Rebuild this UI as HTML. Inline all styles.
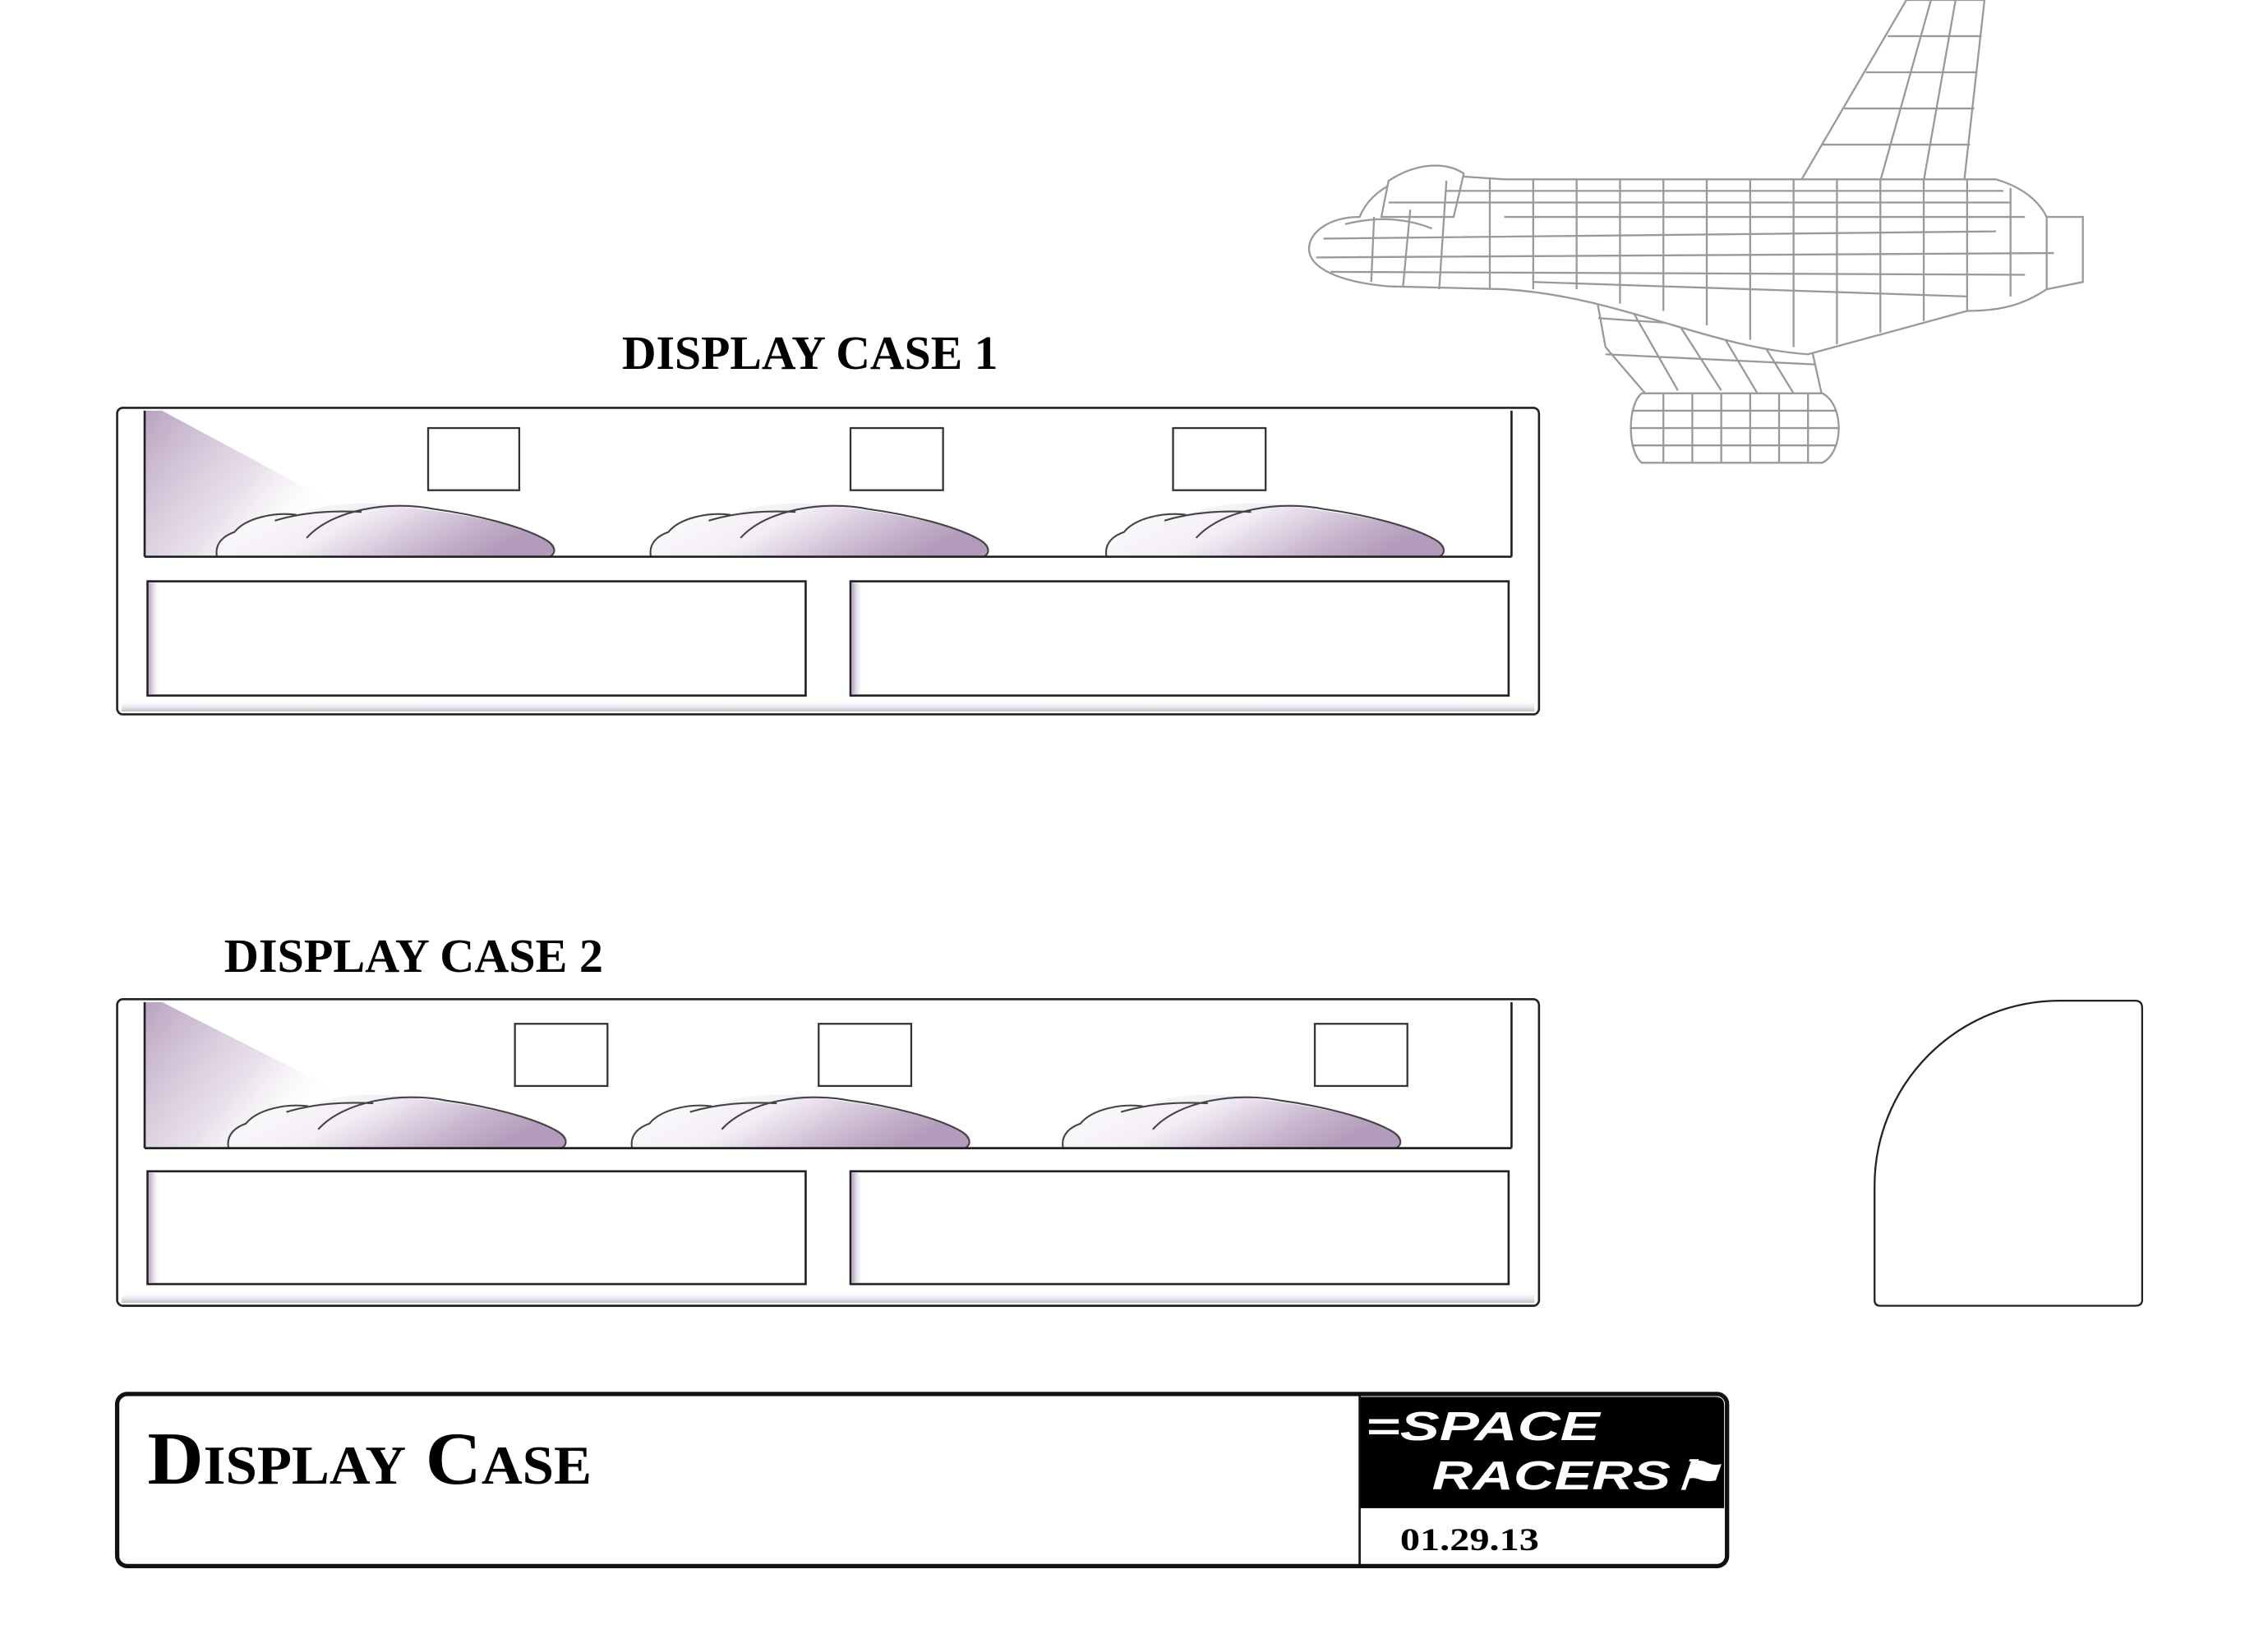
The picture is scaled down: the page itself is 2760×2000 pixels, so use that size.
<!DOCTYPE html>
<html><head><meta charset="utf-8"><style>html,body{margin:0;padding:0;background:#fff}svg{display:block}</style></head>
<body>
<svg width="2760" height="2000" viewBox="0 0 1568 1136.2" xmlns="http://www.w3.org/2000/svg" font-family="'Liberation Serif', serif">
<defs>
<linearGradient id="cone" x1="0" y1="0" x2="1" y2="0.6"><stop offset="0" stop-color="#b9a2c0"/><stop offset="0.6" stop-color="#d8cbdc" stop-opacity="0.6"/><stop offset="1" stop-color="#fff" stop-opacity="0"/></linearGradient>
<linearGradient id="mound" x1="0" y1="0" x2="1" y2="0.3"><stop offset="0" stop-color="#fff"/><stop offset="0.45" stop-color="#f3eef5"/><stop offset="0.8" stop-color="#c7b4cd"/><stop offset="1" stop-color="#b39cbb"/></linearGradient>
<linearGradient id="shadL" x1="0" y1="0" x2="1" y2="0"><stop offset="0" stop-color="#b7a1bf"/><stop offset="1" stop-color="#fff" stop-opacity="0"/></linearGradient>
<linearGradient id="shadB" x1="0" y1="0" x2="0" y2="1"><stop offset="0" stop-color="#fff" stop-opacity="0"/><stop offset="1" stop-color="#c9bacd"/></linearGradient>
<g id="mnd">
<path d="M0,35 C-2,25 6,20 12,18 C20,8 40,4 55,6 C75,-2 100,-4 125,0 C160,4 200,10 225,22 C235,25 236,32 230,35 Z" fill="url(#mound)" stroke="none"/>
<path d="M0,35 C-2,25 6,20 12,18 C20,8 40,4 55,6 M40,10 C60,4 80,3 100,4 M62,22 C80,2 120,-4 150,2 C180,6 210,14 225,22 C233,26 236,32 230,35" fill="none" stroke="#444" stroke-width="1.2"/>
</g>
</defs>

<g fill="none" stroke="#999" stroke-width="1.3">
<path d="M1245,125 L1318,0 L1372,0 L1358,125 Z" fill="#fff"/>
<path d="M1260,100 L1362,100 M1275,75 L1365,75 M1290,50 L1367,50 M1305,25 L1370,25 M1300,125 L1335,0 M1330,125 L1352,0"/>
<path d="M1100,185 L1170,190 L1250,230 L1260,275 L1140,275 L1110,240 Z" fill="#fff"/>
<path d="M1120,200 L1160,270 M1145,200 L1190,270 M1175,205 L1215,272 M1205,215 L1240,272 M1105,220 L1250,230 M1110,245 L1255,252"/>
<path d="M940,150 C950,125 985,115 1010,122 L1040,124 L1380,124 C1400,130 1410,140 1415,150 L1440,150 L1440,195 L1415,200 C1400,210 1385,215 1360,215 L1250,245 C1180,240 1120,205 1040,200 L960,198 C925,195 905,185 905,172 C905,160 920,150 940,150 Z" fill="#fff"/>
<path d="M960,125 C980,112 1000,112 1012,120 L1005,150 L955,150 Z" fill="#fff"/>
<path d="M930,155 C950,150 970,150 990,158 M915,165 L1380,160 M910,178 L1420,175 M920,188 L1400,190 M960,140 L1390,140 M1000,132 L1385,132 M1040,150 L1400,150 M1060,195 L1360,205"/>
<path d="M950,150 L948,195 M975,145 L970,198 M1000,125 L995,200 M1030,124 L1030,200 M1060,124 L1060,200 M1090,124 L1090,200 M1120,124 L1120,210 M1150,124 L1150,215 M1180,124 L1180,225 M1210,124 L1210,235 M1240,124 L1240,240 M1270,124 L1270,238 M1300,124 L1300,230 M1330,124 L1330,222 M1360,124 L1360,215 M1390,130 L1390,205 M1415,150 L1415,200"/>
<path d="M1135,272 L1260,272 C1275,280 1275,312 1260,320 L1135,320 C1125,312 1125,280 1135,272 Z" fill="#fff"/>
<path d="M1128,284 L1270,284 M1128,296 L1272,296 M1128,308 L1270,308 M1150,272 L1150,320 M1170,272 L1170,320 M1190,272 L1190,320 M1210,272 L1210,320 M1230,272 L1230,320 M1250,272 L1250,320"/>
</g>

<text x="560" y="255" font-size="33" font-weight="bold" text-anchor="middle" textLength="260" lengthAdjust="spacingAndGlyphs">DISPLAY CASE 1</text>
<g>
<rect x="81" y="282" width="983" height="212" rx="4" fill="#fff" stroke="#222" stroke-width="1.5"/>
<rect x="84" y="484" width="977" height="8" fill="url(#shadB)"/>
<polygon points="100,284 112,284 235,350 190,385 100,385" fill="url(#cone)"/>
<line x1="100" y1="284" x2="100" y2="385" stroke="#222" stroke-width="1.5"/>
<line x1="1045" y1="284" x2="1045" y2="385" stroke="#222" stroke-width="1.5"/>
<use href="#mnd" x="150" y="350"/>
<use href="#mnd" x="450" y="350"/>
<use href="#mnd" x="765" y="350"/>
<line x1="100" y1="385" x2="1045" y2="385" stroke="#222" stroke-width="1.5"/>
<rect x="296" y="296" width="63" height="43" fill="#fff" stroke="#333" stroke-width="1.3"/>
<rect x="588" y="296" width="64" height="43" fill="#fff" stroke="#333" stroke-width="1.3"/>
<rect x="811" y="296" width="64" height="43" fill="#fff" stroke="#333" stroke-width="1.3"/>
<rect x="102" y="402" width="455" height="79" fill="#fff" stroke="#222" stroke-width="1.5"/>
<rect x="103" y="403" width="8" height="77" fill="url(#shadL)"/>
<rect x="588" y="402" width="455" height="79" fill="#fff" stroke="#222" stroke-width="1.5"/>
<rect x="589" y="403" width="8" height="77" fill="url(#shadL)"/>
</g>

<text x="155" y="672" font-size="33" font-weight="bold" textLength="262" lengthAdjust="spacingAndGlyphs">DISPLAY CASE 2</text>
<g>
<rect x="81" y="691" width="983" height="212" rx="4" fill="#fff" stroke="#222" stroke-width="1.5"/>
<rect x="84" y="893" width="977" height="8" fill="url(#shadB)"/>
<polygon points="100,693 112,693 235,755 190,794 100,794" fill="url(#cone)"/>
<line x1="100" y1="693" x2="100" y2="794" stroke="#222" stroke-width="1.5"/>
<line x1="1045" y1="693" x2="1045" y2="794" stroke="#222" stroke-width="1.5"/>
<use href="#mnd" x="158" y="759"/>
<use href="#mnd" x="437" y="759"/>
<use href="#mnd" x="735" y="759"/>
<line x1="100" y1="794" x2="1045" y2="794" stroke="#222" stroke-width="1.5"/>
<rect x="356" y="708" width="64" height="43" fill="#fff" stroke="#333" stroke-width="1.3"/>
<rect x="566" y="708" width="64" height="43" fill="#fff" stroke="#333" stroke-width="1.3"/>
<rect x="909" y="708" width="64" height="43" fill="#fff" stroke="#333" stroke-width="1.3"/>
<rect x="102" y="810" width="455" height="78" fill="#fff" stroke="#222" stroke-width="1.5"/>
<rect x="103" y="811" width="8" height="76" fill="url(#shadL)"/>
<rect x="588" y="810" width="455" height="78" fill="#fff" stroke="#222" stroke-width="1.5"/>
<rect x="589" y="811" width="8" height="76" fill="url(#shadL)"/>
</g>

<path d="M1296,820 A128,128 0 0 1 1424,692 L1476,692 Q1481,692 1481,697 L1481,899 Q1481,903 1476,903 L1300,903 Q1296,903 1296,899 Z" fill="#fff" stroke="#222" stroke-width="1.3"/>

<rect x="81" y="964" width="1113" height="119" rx="7" fill="#fff" stroke="#111" stroke-width="3"/>
<path d="M940,966 L1186,966 Q1192,966 1192,972 L1192,1043 L940,1043 Z" fill="#000"/>
<line x1="940" y1="964" x2="940" y2="1083" stroke="#111" stroke-width="1.5"/>
<text x="102" y="1026" font-size="52" font-weight="bold" textLength="307" lengthAdjust="spacingAndGlyphs">D<tspan font-size="38">ISPLAY</tspan> C<tspan font-size="38">ASE</tspan></text>
<text x="944" y="996" font-size="28" font-weight="bold" font-style="italic" fill="#fff" font-family="'Liberation Sans', sans-serif" textLength="162" lengthAdjust="spacingAndGlyphs">=SPACE</text>
<text x="990" y="1030" font-size="28" font-weight="bold" font-style="italic" fill="#fff" font-family="'Liberation Sans', sans-serif" textLength="200" lengthAdjust="spacingAndGlyphs">RACERS⚑</text>
<text x="968" y="1072" font-size="22" font-weight="bold" textLength="96" lengthAdjust="spacingAndGlyphs">01.29.13</text>
</svg>
</body></html>
